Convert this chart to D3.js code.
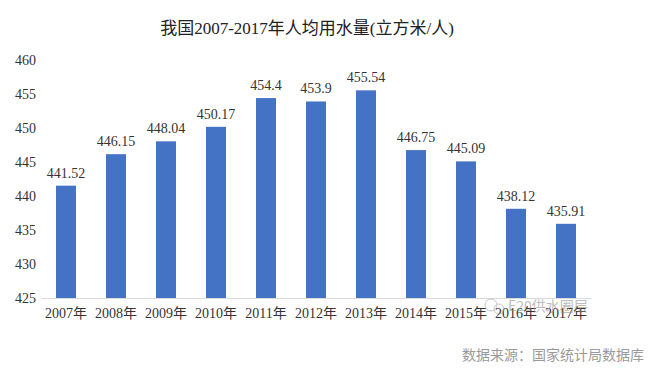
<!DOCTYPE html>
<html>
<head>
<meta charset="utf-8">
<script src="https://cdn.jsdelivr.net/npm/d3@7"></script>
<style>
  body { margin: 0; background: #fff; }
  svg { display: block; }
</style>
</head>
<body>
<div id="chart"></div>
<script>
// data
const years = ['2007年', '2008年', '2009年', '2010年', '2011年', '2012年', '2013年', '2014年', '2015年', '2016年', '2017年'];
const waterPerCapita = [441.52, 446.15, 448.04, 450.17, 454.4, 453.9, 455.54, 446.75, 445.09, 438.12, 435.91];
const valueLabels = ['441.52', '446.15', '448.04', '450.17', '454.4', '453.9', '455.54', '446.75', '445.09', '438.12', '435.91'];
const yTicks = [425, 430, 435, 440, 445, 450, 455, 460];

const width = 658, height = 371;
const serif = '"Liberation Serif", "Noto Sans CJK SC", serif';

const svg = d3.select('#chart')
    .append('svg')
    .attr('width', width)
    .attr('height', height);

// Title
svg.append('text')
    .attr('x', 307)
    .attr('y', 34)
    .attr('text-anchor', 'middle')
    .attr('font-family', serif)
    .attr('font-size', '17px')
    .attr('fill', '#222')
    .text('我国2007-2017年人均用水量(立方米/人)');

// Scales
const x = d3.scaleBand()
    .domain(years)
    .range([41, 591])
    .paddingInner(0.6)
    .paddingOuter(0.3);

const y = d3.scaleLinear()
    .domain([425, 460])
    .range([298, 60]);

// Y axis labels (no axis line)
const yAxis = svg.append('g')
    .attr('transform', 'translate(36,0)')
    .call(d3.axisLeft(y).tickValues(yTicks).tickSize(0).tickPadding(0));
yAxis.select('.domain').remove();
yAxis.selectAll('text')
    .attr('font-family', serif)
    .attr('font-size', '14px')
    .attr('fill', '#333');

// Bars
svg.append('g')
    .selectAll('rect')
    .data(waterPerCapita)
    .join('rect')
    .attr('x', (d, i) => x(years[i]))
    .attr('y', d => y(d))
    .attr('width', x.bandwidth())
    .attr('height', d => y(425) - y(d))
    .attr('fill', '#4472c4');

// Value labels
svg.append('g')
    .selectAll('text')
    .data(waterPerCapita)
    .join('text')
    .attr('x', (d, i) => x(years[i]) + x.bandwidth() / 2)
    .attr('y', d => y(d) - 8)
    .attr('text-anchor', 'middle')
    .attr('font-family', serif)
    .attr('font-size', '14px')
    .attr('fill', '#333')
    .text((d, i) => valueLabels[i]);

// X axis
const xAxis = svg.append('g')
    .attr('transform', 'translate(0,298)')
    .call(d3.axisBottom(x).tickSize(0).tickPadding(10));
xAxis.select('.domain')
    .attr('stroke', '#d9d9d9')
    .attr('stroke-width', 1);
xAxis.selectAll('text')
    .attr('font-family', serif)
    .attr('font-size', '14px')
    .attr('fill', '#333');

// Watermark
const wm = svg.append('g').attr('opacity', 0.55);
wm.append('circle')
    .attr('cx', 491).attr('cy', 305).attr('r', 6)
    .attr('fill', 'none').attr('stroke', '#999').attr('stroke-width', 1);
wm.append('circle')
    .attr('cx', 499).attr('cy', 309).attr('r', 5)
    .attr('fill', 'none').attr('stroke', '#999').attr('stroke-width', 1);
wm.append('text')
    .attr('x', 508)
    .attr('y', 311)
    .attr('font-family', '"Noto Sans CJK SC", sans-serif')
    .attr('font-size', '14px')
    .attr('fill', '#888')
    .text('E20供水圈层');

// Source
svg.append('text')
    .attr('x', 644)
    .attr('y', 360)
    .attr('text-anchor', 'end')
    .attr('font-family', '"Noto Sans CJK SC", sans-serif')
    .attr('font-size', '14px')
    .attr('fill', '#9a9a9a')
    .text('数据来源：国家统计局数据库');
</script>
</body>
</html>
